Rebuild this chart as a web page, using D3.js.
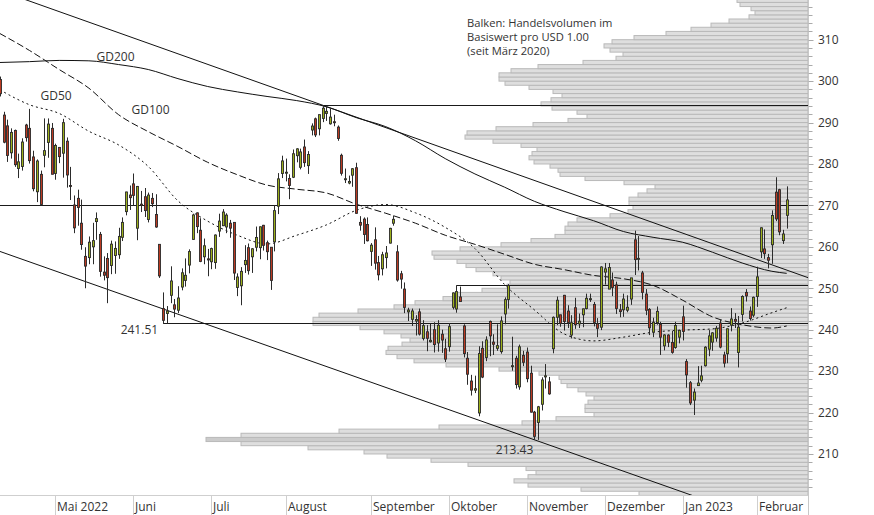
<!DOCTYPE html>
<html><head><meta charset="utf-8">
<script src="https://cdn.jsdelivr.net/npm/d3@7"></script>
<style>body{margin:0;background:#fff;}svg{display:block;font-family:"Open Sans",sans-serif;}</style>
</head><body><svg id="chart" width="874" height="515"></svg>
<script>
// ---------- DATA ----------
const dates = ["2022-04-08","2022-04-11","2022-04-12","2022-04-13","2022-04-14","2022-04-18","2022-04-19","2022-04-20","2022-04-21","2022-04-22","2022-04-25","2022-04-26","2022-04-27","2022-04-28","2022-04-29",
"2022-05-02","2022-05-03","2022-05-04","2022-05-05","2022-05-06","2022-05-09","2022-05-10","2022-05-11","2022-05-12","2022-05-13","2022-05-16","2022-05-17","2022-05-18","2022-05-19","2022-05-20","2022-05-23","2022-05-24","2022-05-25","2022-05-26","2022-05-27","2022-05-31",
"2022-06-01","2022-06-02","2022-06-03","2022-06-06","2022-06-07","2022-06-08","2022-06-09","2022-06-10","2022-06-13","2022-06-14","2022-06-15","2022-06-16","2022-06-17","2022-06-21","2022-06-22","2022-06-23","2022-06-24","2022-06-27","2022-06-28","2022-06-29","2022-06-30",
"2022-07-01","2022-07-05","2022-07-06","2022-07-07","2022-07-08","2022-07-11","2022-07-12","2022-07-13","2022-07-14","2022-07-15","2022-07-18","2022-07-19","2022-07-20","2022-07-21","2022-07-22","2022-07-25","2022-07-26","2022-07-27","2022-07-28","2022-07-29",
"2022-08-01","2022-08-02","2022-08-03","2022-08-04","2022-08-05","2022-08-08","2022-08-09","2022-08-10","2022-08-11","2022-08-12","2022-08-15","2022-08-16","2022-08-17","2022-08-18","2022-08-19","2022-08-22","2022-08-23","2022-08-24","2022-08-25","2022-08-26","2022-08-29","2022-08-30","2022-08-31",
"2022-09-01","2022-09-02","2022-09-06","2022-09-07","2022-09-08","2022-09-09","2022-09-12","2022-09-13","2022-09-14","2022-09-15","2022-09-16","2022-09-19","2022-09-20","2022-09-21","2022-09-22","2022-09-23","2022-09-26","2022-09-27","2022-09-28","2022-09-29","2022-09-30",
"2022-10-03","2022-10-04","2022-10-05","2022-10-06","2022-10-07","2022-10-10","2022-10-11","2022-10-12","2022-10-13","2022-10-14","2022-10-17","2022-10-18","2022-10-19","2022-10-20","2022-10-21","2022-10-24","2022-10-25","2022-10-26","2022-10-27","2022-10-28","2022-10-31",
"2022-11-01","2022-11-02","2022-11-03","2022-11-04","2022-11-07","2022-11-08","2022-11-09","2022-11-10","2022-11-11","2022-11-14","2022-11-15","2022-11-16","2022-11-17","2022-11-18","2022-11-21","2022-11-22","2022-11-23","2022-11-25","2022-11-28","2022-11-29","2022-11-30",
"2022-12-01","2022-12-02","2022-12-05","2022-12-06","2022-12-07","2022-12-08","2022-12-09","2022-12-12","2022-12-13","2022-12-14","2022-12-15","2022-12-16","2022-12-19","2022-12-20","2022-12-21","2022-12-22","2022-12-23","2022-12-27","2022-12-28","2022-12-29","2022-12-30",
"2023-01-03","2023-01-04","2023-01-05","2023-01-06","2023-01-09","2023-01-10","2023-01-11","2023-01-12","2023-01-13","2023-01-17","2023-01-18","2023-01-19","2023-01-20","2023-01-23","2023-01-24","2023-01-25","2023-01-26","2023-01-27","2023-01-30","2023-01-31",
"2023-02-01","2023-02-02","2023-02-03","2023-02-06","2023-02-07","2023-02-08","2023-02-09","2023-02-10","2023-02-13"];

const opens = [300.4,291.8,289.2,282.7,288.1,278.9,279.4,289.4,288.6,281.7,273.3,277.5,282.1,285.2,288.6,
277.7,284.0,282.6,285.5,274.8,270.1,271.7,265.7,257.7,257.4,260.0,266.1,263.0,253.9,257.2,255.5,257.9,258.1,262.3,268.5,272.5,
275.2,264.5,270.3,272.1,266.6,271.7,267.8,260.6,245.1,243.9,248.3,246.0,244.7,250.3,251.9,255.6,261.8,268.2,264.0,257.6,257.1,
256.4,256.2,263.8,265.1,264.8,265.7,265.9,250.2,250.6,255.7,259.8,257.6,259.9,259.8,265.2,261.0,259.9,261.2,269.8,277.7,
277.8,276.5,276.8,282.0,279.2,284.1,279.6,288.2,290.9,288.5,291.0,292.2,289.7,290.2,288.9,282.1,276.4,275.4,277.3,279.1,265.9,266.7,265.4,
258.9,261.7,256.2,254.7,257.4,260.9,265.7,258.8,253.5,249.8,244.3,242.5,242.1,244.3,237.9,239.5,237.1,240.0,236.8,238.9,235.4,
235.9,245.4,245.0,247.9,240.9,233.1,227.6,225.4,219.9,235.5,233.3,242.0,237.0,235.5,234.7,243.8,247.3,231.2,233.1,226.2,233.8,
234.6,229.5,220.1,217.6,222.0,228.6,227.4,235.4,243.0,243.6,248.3,244.5,238.7,245.3,241.4,243.6,245.1,247.3,246.1,241.4,240.6,
253.9,249.8,252.0,250.8,244.8,244.8,244.7,247.4,261.7,257.1,253.7,248.6,244.9,239.4,241.7,241.3,236.1,238.7,236.9,235.7,238.2,
243.1,232.3,227.2,223.0,226.5,227.8,231.3,235.3,237.0,238.0,241.6,233.9,234.2,241.1,242.5,234.5,243.7,249.0,244.5,243.5,
248.0,258.8,259.5,257.4,260.5,273.2,273.8,261.5,267.6];

const highs = [301.1,292.6,290.7,288.6,288.3,282.5,286.2,289.7,293.3,283.2,281.1,278.4,291.0,291.0,289.9,
284.9,284.1,290.9,286.4,279.3,272.4,273.8,271.4,259.9,262.5,265.8,268.3,263.6,257.7,258.5,261.5,261.3,264.6,267.1,273.3,274.8,
277.7,274.7,273.5,274.2,273.1,273.0,272.7,260.6,249.0,245.7,255.3,247.4,250.5,254.8,257.2,259.4,268.0,268.3,266.9,262.0,259.5,
259.8,263.0,268.0,269.1,268.1,266.5,265.9,253.6,255.1,260.4,260.8,259.7,264.9,264.9,265.3,261.5,259.9,270.1,277.8,282.0,
281.3,277.5,283.5,283.8,283.7,285.9,283.1,289.8,291.2,291.9,294.2,294.0,293.4,291.9,289.3,282.5,278.9,277.2,279.0,280.3,267.4,267.1,267.1,
260.9,264.7,257.8,258.8,260.2,264.6,267.5,260.4,254.2,251.4,245.3,245.1,243.5,245.1,242.3,241.1,241.5,241.8,242.3,240.0,237.8,
241.6,249.0,250.7,250.4,241.3,234.6,229.1,228.9,236.0,237.2,238.4,242.2,238.9,241.3,243.2,247.8,251.0,238.3,233.7,236.4,234.9,
235.7,231.3,220.4,221.6,228.5,231.7,228.6,243.2,248.0,243.6,248.4,245.9,243.5,247.7,243.9,245.1,248.7,248.7,246.7,242.8,255.3,
256.1,256.1,253.8,251.6,246.2,248.7,248.3,252.5,263.9,262.6,254.2,249.8,245.2,242.9,245.6,241.9,238.9,238.9,239.7,241.9,240.0,
245.8,232.9,227.6,225.8,231.2,231.3,236.0,239.9,239.4,240.9,242.4,234.7,240.3,245.2,244.0,243.3,248.3,249.8,245.6,248.0,
255.2,264.7,264.2,258.3,268.8,276.8,274.0,264.1,274.6];

const lows = [296.3,285.0,280.5,281.3,279.3,276.6,278.4,285.4,280.1,273.4,270.8,270.0,279.2,281.5,277.5,
276.2,280.2,276.7,274.3,271.3,263.3,265.1,259.3,250.0,255.8,255.8,261.7,252.8,251.9,246.4,253.4,253.5,257.1,261.4,267.6,268.9,
270.0,261.6,268.4,267.2,265.9,269.6,264.6,252.5,241.5,241.5,246.4,243.0,244.0,249.5,250.4,253.6,261.7,263.3,256.3,255.8,252.9,
254.6,254.7,262.4,265.0,263.3,262.2,252.0,248.1,245.9,253.7,253.3,253.7,258.9,257.0,259.1,256.8,249.6,258.9,267.9,276.6,
275.8,271.5,276.6,280.4,278.7,279.3,277.6,286.9,286.5,286.9,290.1,290.4,289.5,289.1,285.6,277.2,275.4,275.1,274.5,268.0,263.9,260.7,261.3,
255.4,254.5,251.9,253.1,254.8,260.8,265.1,251.6,249.9,244.0,242.1,240.9,238.6,238.6,237.4,234.8,236.9,234.5,234.7,234.4,232.2,
234.7,244.9,244.1,246.8,233.3,226.7,224.1,224.7,219.1,228.3,232.4,233.6,233.9,234.9,234.2,241.3,245.1,230.1,225.8,225.5,231.2,
227.3,220.0,213.43,213.4,220.5,225.8,224.3,234.3,241.1,240.7,239.8,240.4,237.9,240.2,240.4,240.6,244.9,246.7,240.8,238.2,239.9,
250.9,249.8,248.1,243.8,243.0,243.1,244.2,246.0,253.2,254.3,247.3,243.5,238.7,238.2,241.2,233.9,235.0,235.8,234.2,235.4,236.7,
237.4,226.0,221.8,219.4,226.4,227.3,231.1,233.6,234.9,237.1,235.5,230.9,231.9,239.6,240.4,230.9,242.0,246.8,242.2,243.0,
245.5,257.3,257.1,254.8,255.9,266.2,262.8,260.7,264.4];

const closes = [296.97,285.26,282.06,287.62,279.83,280.52,285.30,286.36,280.81,274.03,280.72,270.22,283.22,289.63,277.52,
284.47,281.78,289.98,277.35,274.73,264.58,269.50,260.55,255.35,261.12,261.50,266.82,254.08,253.14,252.56,260.65,259.62,262.52,265.90,273.24,271.87,
272.42,274.58,270.02,268.75,272.50,270.41,264.79,252.99,242.26,244.49,251.76,244.97,247.65,253.74,253.13,258.86,267.70,264.89,256.48,260.26,256.83,
259.58,262.85,266.21,268.40,267.66,264.51,253.67,252.72,254.08,256.72,254.25,259.53,262.27,264.84,260.36,258.83,251.90,268.74,276.41,280.74,
278.01,274.82,282.47,283.65,282.91,280.32,282.30,289.16,287.02,291.91,293.47,292.71,291.32,290.17,286.15,277.75,276.44,275.79,278.85,268.09,265.23,262.97,261.47,
260.40,256.06,253.25,258.09,258.52,264.46,266.65,251.99,252.22,245.38,244.74,244.52,242.45,238.95,240.98,237.92,237.45,236.41,241.07,237.50,232.90,
240.74,248.88,249.20,246.79,234.24,229.25,225.41,225.75,234.24,228.56,237.53,238.50,236.48,236.15,242.12,247.25,250.66,231.32,226.75,235.87,232.13,
228.17,220.10,214.25,221.39,227.87,228.87,224.51,242.98,247.11,241.55,241.97,241.73,241.68,241.22,242.05,245.03,247.58,247.49,241.76,240.33,255.14,
254.69,255.02,250.20,245.12,244.37,247.40,245.42,252.51,256.92,257.22,249.01,244.69,240.45,241.80,244.43,238.19,238.73,236.96,234.53,241.01,239.82,
239.58,229.10,222.31,224.93,227.12,228.85,235.77,238.51,239.23,240.35,235.81,231.93,240.22,242.58,242.04,240.61,248.00,248.16,242.71,247.81,
252.75,264.60,258.35,256.77,267.56,266.73,263.62,263.10,271.32];

// Volume profile (trading volume per USD 1.00 price level since March 2020), arbitrary units
const volumeLevels = [200,201,202,203,204,205,206,207,208,209,210,211,212,213,214,215,216,217,218,219,
220,221,222,223,224,225,226,227,228,229,230,231,232,233,234,235,236,237,238,239,
240,241,242,243,244,245,246,247,248,249,250,251,252,253,254,255,256,257,258,259,
260,261,262,263,264,265,266,267,268,269,270,271,272,273,274,275,276,277,278,279,
280,281,282,283,284,285,286,287,288,289,290,291,292,293,294,295,296,297,298,299,
300,301,302,303,304,305,306,307,308,309,310,311,312,313,314,315,316,317,318,319];
const volumes = [169,227,280,294,280,272,282,340,377,421,444,500,567,602,567,469,369,286,252,214,
223,223,220,214,222,230,241,247,249,269,309,362,394,411,422,420,406,398,407,424,
448,495,495,489,450,414,393,365,352,326,301,298,307,315,332,342,351,374,376,348,
307,277,253,243,243,240,231,198,180,175,179,179,170,161,153,184,223,248,250,258,
274,279,276,271,287,315,343,341,312,275,240,221,231,256,267,257,246,255,279,303,
309,309,297,270,225,192,185,198,204,196,174,142,117,97,79,59,53,57,68,71];

// Moving averages, read at sample dates
const maDates = ["2022-04-08","2022-04-21","2022-05-03","2022-05-13","2022-05-25","2022-06-07","2022-06-17","2022-06-30","2022-07-13","2022-07-25","2022-08-04","2022-08-16","2022-08-26","2022-09-08","2022-09-20","2022-09-30","2022-10-12","2022-10-24","2022-11-03","2022-11-15","2022-11-28","2022-12-08","2022-12-20","2023-01-03","2023-01-13","2023-01-26","2023-02-07","2023-02-13"];
const gd200 = [304.5,304.7,305.0,304.9,304.0,302.8,300.6,298.7,297.4,296.3,295.3,293.8,291.2,289.0,285.6,281.3,277.6,274.4,271.0,268.5,266.3,263.7,262.3,261.1,258.7,256.1,254.1,253.6];
const gd100 = [311.5,307.4,302.8,298.3,291.9,287.8,284.2,280.4,277.4,274.9,273.9,273.0,270.3,268.1,265.7,262.8,260.6,258.2,255.8,254.5,253.1,252.3,250.7,247.1,243.1,241.2,240.4,240.9];
const gd50  = [297.9,294.3,292.2,287.9,284.6,279.4,271.1,266.2,262.8,260.7,262.8,265.3,268.8,270.2,268.2,264.7,259.6,250.9,244.8,239.0,237.3,238.2,239.4,239.9,240.2,241.6,244.1,245.3];
const maNames = ["GD200","GD100","GD50"];

// Horizontal support/resistance lines
const hlineValues = [294.18, 270, 250.7, 241.51];
const hlineStarts = ["2022-08-15", "2022-04-08", "2022-10-05", "2022-06-13"];
const hlineFromLeft = [false, true, false, false];

// Trend channel anchors
const upperTrendDates = ["2022-08-15","2023-02-13"];
const upperTrendValues = [294.18, 254.39];
const lowerTrendDates = ["2022-04-08","2022-11-03"];
const lowerTrendValues = [258.9, 213.43];

// Axis ticks
const yTickValues = [210,220,230,240,250,260,270,280,290,300,310];
const monthTickDates = ["2022-05-02","2022-06-01","2022-07-01","2022-08-01","2022-09-01","2022-10-03","2022-11-01","2022-12-01","2023-01-03","2023-02-01"];
const monthTickLabels = ["Mai 2022","Juni","Juli","August","September","Oktober","November","Dezember","Jan 2023","Februar"];

const noteLines = ["Balken: Handelsvolumen im","Basiswert pro USD 1.00","(seit März 2020)"];

// ---------- DRAW ----------
const svg = d3.select("#chart");
const plotR = 808, plotB = 495.4;
const y = d3.scaleLinear().domain([200, 310]).range([plotB, 39.7]);
const x = d3.scalePoint().domain(dates).range([-0.2, 786.7]);
const step = x.step();
const x0 = x(dates[0]);
const idxOf = d => dates.indexOf(d);
const xi = i => x0 + i * step;
const xv = d3.scaleLinear().domain([0, 700]).range([plotR, plotR - 700]);

svg.append("defs").append("clipPath").attr("id","clip")
  .append("rect").attr("x",0).attr("y",0).attr("width",plotR).attr("height",plotB);
const g = svg.append("g").attr("clip-path","url(#clip)");

// volume profile
const maxVol = d3.max(volumes);
g.append("g").selectAll("rect").data(volumeLevels).join("rect")
  .attr("x", (d,i) => xv(volumes[i]))
  .attr("y", d => y(d + 1))
  .attr("width", (d,i) => plotR - xv(volumes[i]))
  .attr("height", d => y(d) - y(d + 1))
  .attr("fill", (d,i) => volumes[i] === maxVol ? "#cbcbcb" : "#dedede")
  .attr("stroke", "#b9b9b9").attr("stroke-width", 1);

// horizontal lines
hlineValues.forEach((v, k) => {
  const xs = hlineFromLeft[k] ? 0 : x(hlineStarts[k]);
  g.append("line").attr("x1", xs).attr("x2", plotR)
    .attr("y1", Math.round(y(v)) + 0.5).attr("y2", Math.round(y(v)) + 0.5)
    .attr("stroke", "#1a1a1a").attr("stroke-width", 1);
});

// trend lines (extended across the plot)
function trend(ds, vs) {
  const i1 = idxOf(ds[0]), i2 = idxOf(ds[1]);
  const slope = (vs[1] - vs[0]) / (i2 - i1);
  const iL = (0 - x0) / step, iR = (plotR - x0) / step;
  const vAt = i => vs[0] + slope * (i - i1);
  g.append("line").attr("x1", xi(iL)).attr("y1", y(vAt(iL)))
    .attr("x2", xi(iR)).attr("y2", y(vAt(iR)))
    .attr("stroke", "#111").attr("stroke-width", 1);
}
trend(upperTrendDates, upperTrendValues);
trend(lowerTrendDates, lowerTrendValues);

// moving averages
const maSeries = [gd200, gd100, gd50];
const maDash = [null, "7,3", "2,3"];
maSeries.forEach((s, k) => {
  const line = d3.line().x((d,i) => x(maDates[i])).y(d => y(d)).curve(d3.curveMonotoneX);
  g.append("path").datum(s).attr("d", line).attr("fill","none")
    .attr("stroke","#111").attr("stroke-width",1)
    .attr("stroke-dasharray", maDash[k]);
});

// candles
const up = "#9cb01c", down = "#bb3a22";
const cg = g.append("g");
dates.forEach((d, i) => {
  const cx = Math.round(x(d)) + 0.5;
  cg.append("line").attr("x1",cx).attr("x2",cx).attr("y1",y(highs[i])).attr("y2",y(lows[i]))
    .attr("stroke","#2b2b2b").attr("stroke-width",1);
  const top = y(Math.max(opens[i], closes[i])), bot = y(Math.min(opens[i], closes[i]));
  cg.append("rect").attr("x", cx - 1).attr("width", 2)
    .attr("y", top).attr("height", Math.max(1, bot - top))
    .attr("fill", closes[i] >= opens[i] ? up : down)
    .attr("stroke","#2b2b2b").attr("stroke-width",0.9);
});

// labels
const txt = (t, xx, yy, anchor, size) => svg.append("text").attr("x",xx).attr("y",yy)
  .attr("text-anchor",anchor||"start").attr("font-size",size||12).attr("fill","#333").text(t);
txt(maNames[0], 96.5, 60.5);
txt(maNames[2], 40.5, 100);
txt(maNames[1], 131.5, 114);
txt(d3.format(".2f")(hlineValues[3]), x(hlineStarts[3]) - 5, y(hlineValues[3]) + 10.5, "end");
txt(d3.format(".2f")(lowerTrendValues[1]), x(lowerTrendDates[1]) - 1, y(lowerTrendValues[1]) + 14.5, "end");
noteLines.forEach((t, k) => txt(t, 467, 26.7 + k * 14, "start", 11.2));

// right axis
svg.append("line").attr("x1",plotR+0.5).attr("x2",plotR+0.5).attr("y1",0).attr("y2",515)
  .attr("stroke","#c8c8c8");
const minor = d3.range(202, 320, 2);
svg.append("g").selectAll("line").data(minor).join("line")
  .attr("x1", plotR + 0.5).attr("x2", d => plotR + (d % 10 === 0 ? 5.5 : 4.5))
  .attr("y1", d => Math.round(y(d)) + 0.5).attr("y2", d => Math.round(y(d)) + 0.5)
  .attr("stroke", "#aaa");
svg.append("g").selectAll("text").data(yTickValues).join("text")
  .attr("x", 818).attr("y", d => y(d)).attr("dy","0.36em")
  .attr("font-size",12).attr("fill","#333").text(d => d);

// bottom axis
svg.append("line").attr("x1",0).attr("x2",plotR).attr("y1",495.5).attr("y2",495.5).attr("stroke","#cfcfcf");
monthTickDates.forEach((d, k) => {
  const tx = Math.round(x(d)) + 0.5;
  svg.append("line").attr("x1",tx).attr("x2",tx).attr("y1",495.5).attr("y2",515).attr("stroke","#cfcfcf");
  svg.append("text").attr("x", tx + 1.5).attr("y", 510.5).attr("font-size",12).attr("fill","#333").text(monthTickLabels[k]);
});
</script></body></html>
